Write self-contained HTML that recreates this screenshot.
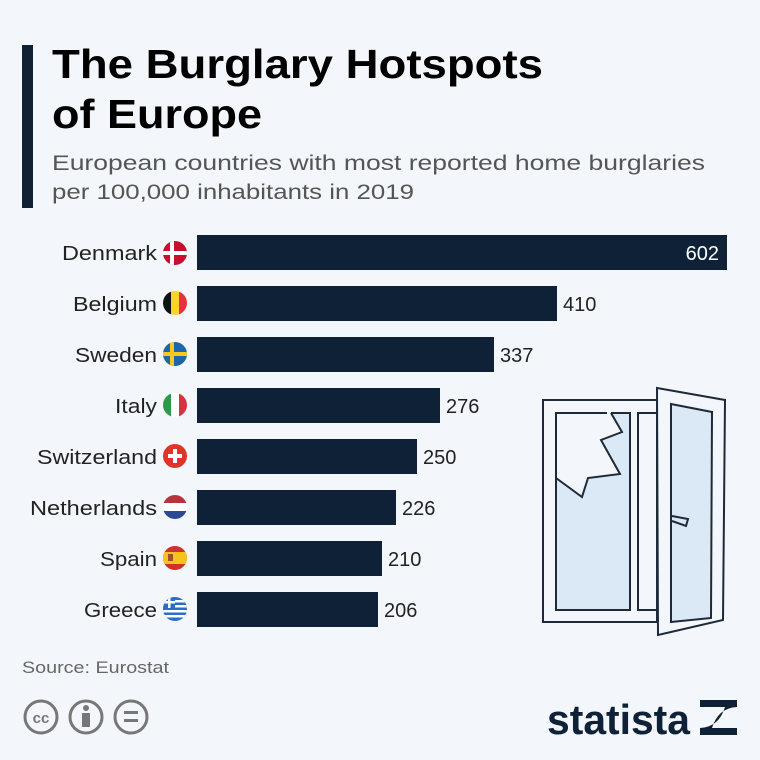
<!DOCTYPE html>
<html><head><meta charset="utf-8"><style>
html,body{margin:0;padding:0;background:#f3f6fa;}
svg{display:block;font-family:"Liberation Sans","DejaVu Sans",sans-serif;}
</style></head><body>
<svg width="760" height="760" viewBox="0 0 760 760" xmlns="http://www.w3.org/2000/svg">
<rect width="760" height="760" fill="#f3f6fa"/>
<rect x="22" y="45" width="11" height="163" fill="#0f2137"/>
<text x="52" y="78" font-size="41" font-weight="bold" fill="#000" textLength="491" lengthAdjust="spacingAndGlyphs">The Burglary Hotspots</text>
<text x="52" y="128" font-size="41" font-weight="bold" fill="#000" textLength="210" lengthAdjust="spacingAndGlyphs">of Europe</text>
<text x="52" y="170" font-size="21" fill="#555" textLength="653" lengthAdjust="spacingAndGlyphs">European countries with most reported home burglaries</text>
<text x="52" y="199" font-size="21" fill="#555" textLength="362" lengthAdjust="spacingAndGlyphs">per 100,000 inhabitants in 2019</text>

<g font-size="20" fill="#222">
<rect x="197" y="235" width="530" height="35" fill="#0f2137"/>
<text x="157" y="260" text-anchor="end" textLength="95" lengthAdjust="spacingAndGlyphs">Denmark</text>
<text x="719" y="260" text-anchor="end" fill="#fff">602</text>

<rect x="197" y="286" width="360" height="35" fill="#0f2137"/>
<text x="157" y="311" text-anchor="end" textLength="84" lengthAdjust="spacingAndGlyphs">Belgium</text>
<text x="563" y="311">410</text>

<rect x="197" y="337" width="297" height="35" fill="#0f2137"/>
<text x="157" y="362" text-anchor="end" textLength="82" lengthAdjust="spacingAndGlyphs">Sweden</text>
<text x="500" y="362">337</text>

<rect x="197" y="388" width="243" height="35" fill="#0f2137"/>
<text x="157" y="413" text-anchor="end" textLength="42" lengthAdjust="spacingAndGlyphs">Italy</text>
<text x="446" y="413">276</text>

<rect x="197" y="439" width="220" height="35" fill="#0f2137"/>
<text x="157" y="464" text-anchor="end" textLength="120" lengthAdjust="spacingAndGlyphs">Switzerland</text>
<text x="423" y="464">250</text>

<rect x="197" y="490" width="199" height="35" fill="#0f2137"/>
<text x="157" y="515" text-anchor="end" textLength="127" lengthAdjust="spacingAndGlyphs">Netherlands</text>
<text x="402" y="515">226</text>

<rect x="197" y="541" width="185" height="35" fill="#0f2137"/>
<text x="157" y="566" text-anchor="end" textLength="57" lengthAdjust="spacingAndGlyphs">Spain</text>
<text x="388" y="566">210</text>

<rect x="197" y="592" width="181" height="35" fill="#0f2137"/>
<text x="157" y="617" text-anchor="end" textLength="73" lengthAdjust="spacingAndGlyphs">Greece</text>
<text x="384" y="617">206</text>
</g>

<defs>
<clipPath id="c1"><circle cx="175" cy="253" r="12"/></clipPath>
<clipPath id="c2"><circle cx="175" cy="303" r="12"/></clipPath>
<clipPath id="c3"><circle cx="175" cy="354" r="12"/></clipPath>
<clipPath id="c4"><circle cx="175" cy="405" r="12"/></clipPath>
<clipPath id="c6"><circle cx="175" cy="507" r="12"/></clipPath>
<clipPath id="c7"><circle cx="175" cy="558" r="12"/></clipPath>
<clipPath id="c8"><circle cx="175" cy="609" r="12"/></clipPath>
</defs>
<g clip-path="url(#c1)"><rect x="163" y="241" width="24" height="24" fill="#c8102e"/><rect x="170" y="241" width="4" height="24" fill="#fff"/><rect x="163" y="251" width="24" height="4" fill="#fff"/></g>
<g clip-path="url(#c2)"><rect x="163" y="291" width="8" height="24" fill="#111"/><rect x="171" y="291" width="8" height="24" fill="#f8d428"/><rect x="179" y="291" width="8" height="24" fill="#e8323a"/></g>
<g clip-path="url(#c3)"><rect x="163" y="342" width="24" height="24" fill="#1d66a8"/><rect x="170" y="342" width="4" height="24" fill="#f8c81c"/><rect x="163" y="352" width="24" height="4" fill="#f8c81c"/></g>
<g clip-path="url(#c4)"><rect x="163" y="393" width="8" height="24" fill="#2d9a47"/><rect x="171" y="393" width="8" height="24" fill="#fff"/><rect x="179" y="393" width="8" height="24" fill="#d8323a"/></g>
<circle cx="175" cy="456" r="12" fill="#e0342a"/><rect x="173" y="449" width="4" height="14" fill="#fff"/><rect x="168" y="454" width="14" height="4" fill="#fff"/>
<g clip-path="url(#c6)"><rect x="163" y="495" width="24" height="8" fill="#b8343c"/><rect x="163" y="503" width="24" height="8" fill="#fff"/><rect x="163" y="511" width="24" height="8" fill="#2a4a96"/></g>
<g clip-path="url(#c7)"><rect x="163" y="546" width="24" height="24" fill="#d0302a"/><rect x="163" y="552" width="24" height="12" fill="#f6c31c"/><rect x="168" y="554" width="5" height="7" fill="#a0502a"/></g>
<g clip-path="url(#c8)"><rect x="163" y="597" width="24" height="24" fill="#2b6cc4"/><rect x="163" y="600" width="24" height="2.5" fill="#fff"/><rect x="163" y="605" width="24" height="2.5" fill="#fff"/><rect x="163" y="610" width="24" height="2.5" fill="#fff"/><rect x="163" y="615" width="24" height="2.5" fill="#fff"/><rect x="163" y="597" width="12" height="11" fill="#2b6cc4"/><rect x="168" y="597" width="2.5" height="11" fill="#fff"/><rect x="163" y="601" width="12" height="2.5" fill="#fff"/></g>

<!-- window -->
<g fill="none" stroke="#1e2a3a" stroke-width="2">
<rect x="543" y="400" width="114" height="222" fill="#f3f6fa"/>
<path d="M630 413 V610 H556 V478 L582 497 L588 478 L620 474 L601 440 L622 432 L610 413 Z" fill="#dbe8f6" stroke="none"/>
<path d="M607 413 H556 V610 H630 V413 H611"/>
<path d="M556 478 L582 497 L588 478 L620 474 L601 440 L622 432 L611 413"/>
<rect x="638" y="413" width="19" height="197"/>
<path d="M657 388 L725 400 L723 620 L658 635 Z" fill="#f3f6fa"/>
<path d="M671 404 L712 412 L711 618 L671 622 Z" fill="#dbe8f6"/>
<path d="M672 516 L688 519 L686 526 L672 521"/>
</g>

<text x="22" y="673" font-size="17" fill="#666" textLength="147" lengthAdjust="spacingAndGlyphs">Source: Eurostat</text>
<g fill="none" stroke="#777" stroke-width="3">
<circle cx="41" cy="717" r="16"/><circle cx="86" cy="717" r="16"/><circle cx="131" cy="717" r="16"/>
</g>
<text x="41" y="723" font-size="15" font-weight="bold" fill="#777" text-anchor="middle">cc</text>
<circle cx="86" cy="708" r="3" fill="#777"/><rect x="82" y="713" width="8" height="14" fill="#777"/>
<rect x="124" y="711" width="14" height="3" fill="#777"/><rect x="124" y="719" width="14" height="3" fill="#777"/>
<text x="547" y="734" font-size="42" font-weight="bold" fill="#0f2137" textLength="143" lengthAdjust="spacingAndGlyphs">statista</text>
<path d="M700 700 H737 V707 Q718 708 712 728 H737 V735 H700 V728 Q719 727 725 707 H700 Z" fill="#0f2137"/>
</svg>
</body></html>
